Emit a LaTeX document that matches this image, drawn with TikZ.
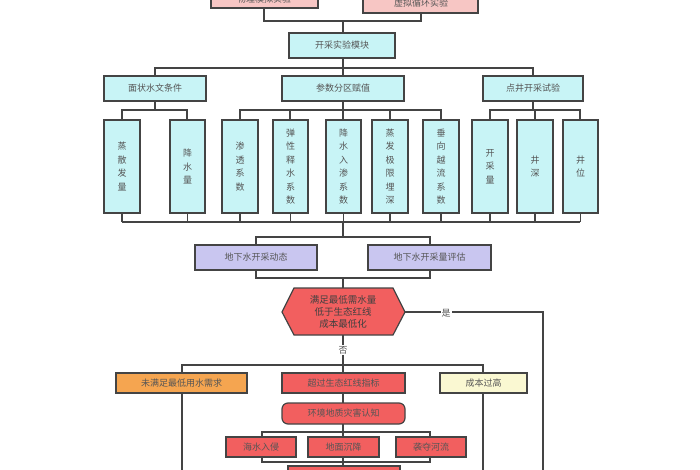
\documentclass[tikz,border=0pt]{standalone}
\usepackage{fontspec}
\newfontfamily\cjk{Noto Sans CJK SC}
\usetikzlibrary{shapes.misc}
\definecolor{cy}{HTML}{C8F4F6}
\definecolor{pk}{HTML}{F7C6C4}
\definecolor{pu}{HTML}{C9C6F0}
\definecolor{rd}{HTML}{F25F5F}
\definecolor{og}{HTML}{F5A550}
\definecolor{yl}{HTML}{FAF8D2}
\definecolor{ln}{HTML}{444444}
\definecolor{tx}{HTML}{555555}
\begin{document}
\begin{tikzpicture}[x=1pt,y=-1pt,
  bx/.style={draw=ln,line width=1.2pt,inner sep=0pt,font=\cjk\fontsize{9}{11}\selectfont,text=tx},
  ln/.style={draw=ln,line width=1.2pt}]
\useasboundingbox (0,0) rectangle (700,470);
\newcommand\bxx[6]{\node[bx,fill=#6,minimum width={#3-#2},minimum height={#5-#4},align=center] (#1) at ({(#2+#3)/2},{(#4+#5)/2}) {};}
\begin{scope}
\clip (0,0) rectangle (700,470);
% top
\bxx{t1}{211}{318}{-12}{8}{pk}\node[bx,draw=none] at (264,-1) {物理模拟实验};
\bxx{t2}{363}{478}{-8}{13}{pk}\node[bx,draw=none] at (421,3) {虚拟循环实验};
\draw[ln] (264,8)--(264,21)--(421,21)--(421,13); \draw[ln](343,21)--(343,33);
\bxx{m}{289}{395}{33}{58}{cy}\node[bx,draw=none] at (m) {开采实验模块};
\draw[ln] (343,58)--(343,68); \draw[ln](155,76)--(155,68)--(533,68)--(533,76); \draw[ln](343,68)--(343,76);
\bxx{a}{104}{206}{76}{101}{cy}\node[bx,draw=none] at (a) {面状水文条件};
\bxx{b}{282}{404}{76}{101}{cy}\node[bx,draw=none] at (b) {参数分区赋值};
\bxx{c}{483}{583}{76}{101}{cy}\node[bx,draw=none] at (c) {点井开采试验};
\draw[ln](155,101)--(155,110); \draw[ln](122,120)--(122,110)--(187,110)--(187,120);
\draw[ln](343,101)--(343,120); \draw[ln](240,120)--(240,110)--(441,110)--(441,120);
\draw[ln](290,110)--(290,120); \draw[ln](390,110)--(390,120);
\draw[ln](533,101)--(533,110); \draw[ln](490,120)--(490,110)--(580,110)--(580,120); \draw[ln](535,110)--(535,120);
\foreach \n/\l/\r/\t in {1/104/140/蒸\\散\\发\\量,2/170/205/降\\水\\量,3/222/258/渗\\透\\系\\数,4/273/308/弹\\性\\释\\水\\系\\数,5/326/361/降\\水\\入\\渗\\系\\数,6/372/408/蒸\\发\\极\\限\\埋\\深,7/423/459/垂\\向\\越\\流\\系\\数,8/472/508/开\\采\\量,9/517/553/井\\深,10/563/598/井\\位}{
 \bxx{p\n}{\l}{\r}{120}{213}{cy}
 \node[bx,draw=none,align=center,font=\cjk\fontsize{9}{13.5}\selectfont] at (p\n) {\t};
 \draw[ln] ({(\l+\r)/2},213)--({(\l+\r)/2},222);}
\draw[ln](122,222)--(580,222); \draw[ln](343,222)--(343,237);
\draw[ln](256,245)--(256,237)--(430,237)--(430,245);
\bxx{d1}{195}{317}{245}{270}{pu}\node[bx,draw=none] at (d1) {地下水开采动态};
\bxx{d2}{368}{491}{245}{270}{pu}\node[bx,draw=none] at (d2) {地下水开采量评估};
\draw[ln](256,270)--(256,278)--(430,278)--(430,270); \draw[ln](343,278)--(343,288);
\draw[ln,fill=rd] (282,312)--(294,288)--(393,288)--(405,312)--(393,335)--(294,335)--cycle;
\node[bx,draw=none,align=center,text=black!75,font=\cjk\fontsize{9.5}{12}\selectfont] (h) at (343,312) {满足最低需水量\\低于生态红线\\成本最低化};
\draw[ln](405,312)--(543,312)--(543,470);
\node[bx,draw=none,fill=white,inner sep=1pt] at (446,313) {是};
\draw[ln](343,335)--(343,373);
\node[bx,draw=none,fill=white,inner sep=1pt] at (343,350) {否};
\draw[ln](182,373)--(182,365)--(483,365)--(483,373);
\bxx{e1}{116}{247}{373}{393}{og}\node[bx,draw=none] at (e1) {未满足最低用水需求};
\bxx{e2}{282}{405}{373}{393}{rd}\node[bx,draw=none] at (e2) {超过生态红线指标};
\bxx{e3}{440}{527}{373}{393}{yl}\node[bx,draw=none] at (e3) {成本过高};
\draw[ln](182,393)--(182,470); \draw[ln](483,393)--(483,470);
\draw[ln](343,393)--(343,403);
\node[bx,fill=rd,rounded corners=6pt,minimum width=123,minimum height=21] (f) at (343.5,413.5) {环境地质灾害认知};
\draw[ln](343,424)--(343,437); \draw[ln](262,437)--(262,432)--(430,432)--(430,437);
\bxx{g1}{226}{296}{437}{457}{rd}\node[bx,draw=none] at (g1) {海水入侵};
\bxx{g2}{308}{379}{437}{457}{rd}\node[bx,draw=none] at (g2) {地面沉降};
\bxx{g3}{396}{466}{437}{457}{rd}\node[bx,draw=none] at (g3) {袭夺河流};
\draw[ln](262,457)--(262,462)--(430,462)--(430,457); \draw[ln](343,457)--(343,466);
\bxx{z}{288}{400}{466}{490}{rd}
\end{scope}
\end{tikzpicture}
\end{document}
